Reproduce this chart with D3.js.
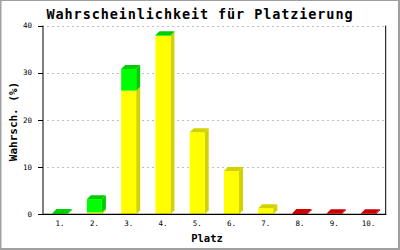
<!DOCTYPE html>
<html><head><meta charset="utf-8">
<script src="https://cdn.jsdelivr.net/npm/d3@7"></script>
<style>body{margin:0;background:#fff}svg{display:block}</style>
</head><body>
<svg id="c" width="400" height="250"></svg>
<script>
const categories = ["1.","2.","3.","4.","5.","6.","7.","8.","9.","10."];
const yellowVals = [0, 0.4, 26.2, 37.8, 17.4, 9.2, 1.3, 0, 0, 0];
const greenVals  = [0.3, 2.8, 4.6, 0.15, 0, 0, 0, 0, 0, 0];
const redVals    = [0, 0, 0, 0, 0, 0, 0, 0.3, 0.2, 0.2];
const yTicks = [0, 10, 20, 30, 40];
const title = "Wahrscheinlichkeit für Platzierung";
const xTitle = "Platz";
const yTitle = "Wahrsch. (%)";

const series = [
  {vals: yellowVals, front: "#ffff00", dark: "#d2d200"},
  {vals: greenVals,  front: "#00ff00", dark: "#00cc00"},
  {vals: redVals,    front: "#ff0000", dark: "#cc0000"}
];

const svg = d3.select("#c");
const L = 43, R = 385.7, T = 25.5, B = 214.3;
const x = d3.scaleBand().domain(categories).range([L, R]);
const y = d3.scaleLinear().domain([0, 40]).range([B, T]);
const bw = 15, dx = 4, dy = 4;
const mono = "DejaVu Sans Mono, monospace";

// frame
svg.append("rect").attr("x", 0.5).attr("y", 0.5).attr("width", 398).attr("height", 248)
  .attr("fill", "none").attr("stroke", "#a0a0a0").attr("stroke-width", 1);
svg.append("line").attr("x1", 0.5).attr("x2", 0.5).attr("y1", 0).attr("y2", 250).attr("stroke", "#a0a0a0").attr("stroke-width", 2);
svg.append("line").attr("x1", 399).attr("x2", 399).attr("y1", 0).attr("y2", 250).attr("stroke", "#a0a0a0").attr("stroke-width", 2);
svg.append("line").attr("x1", 0).attr("x2", 400).attr("y1", 249).attr("y2", 249).attr("stroke", "#a0a0a0").attr("stroke-width", 2);

// grid
svg.append("g").selectAll("line").data(yTicks.filter(d => d > 0)).join("line")
  .attr("x1", L + 4).attr("x2", R).attr("y1", d => Math.round(y(d)) + 0.5).attr("y2", d => Math.round(y(d)) + 0.5)
  .attr("stroke", "#c0c0c0").attr("stroke-dasharray", "2,3");

// bars
const g = svg.append("g");
categories.forEach((c, i) => {
  const cx = x(c) + x.bandwidth() / 2;
  const x0 = cx - bw / 2, x1 = cx + bw / 2;
  let acc = 0;
  let topIdx = -1;
  series.forEach((s, k) => { if (s.vals[i] > 0) topIdx = k; });
  series.forEach((s, k) => {
    const v = s.vals[i];
    if (v <= 0) return;
    const yb = y(acc), yt = y(acc + v);
    // side
    g.append("polygon")
      .attr("points", [[x1, yb], [x1 + dx, yb - dy], [x1 + dx, yt - dy], [x1, yt]].map(p => p.join(",")).join(" "))
      .attr("fill", s.dark);
    // front
    g.append("rect").attr("x", x0).attr("y", yt).attr("width", bw).attr("height", Math.max(0, yb - yt))
      .attr("fill", s.front);
    if (k === topIdx) {
      g.append("polygon")
        .attr("points", [[x0, yt], [x0 + dx, yt - dy], [x1 + dx, yt - dy], [x1, yt]].map(p => p.join(",")).join(" "))
        .attr("fill", s.dark);
    }
    acc += v;
  });
});

// axes
svg.append("line").attr("x1", L).attr("x2", L).attr("y1", T).attr("y2", B + 0.5).attr("stroke", "#000");
svg.append("line").attr("x1", R).attr("x2", R).attr("y1", T).attr("y2", B + 0.5).attr("stroke", "#000");
svg.append("line").attr("x1", L).attr("x2", R + 0.5).attr("y1", B).attr("y2", B).attr("stroke", "#000").attr("stroke-width", 1.2);

const yt = svg.append("g");
yt.selectAll("line").data(yTicks).join("line")
  .attr("x1", L - 5).attr("x2", L).attr("y1", d => Math.round(y(d)) + 0.5).attr("y2", d => Math.round(y(d)) + 0.5)
  .attr("stroke", "#000");
yt.selectAll("text").data(yTicks).join("text")
  .attr("x", 32).attr("y", d => y(d) + 2.6).attr("text-anchor", "end")
  .attr("font-family", mono).attr("font-size", 7.5).text(d => d);

svg.append("g").selectAll("text").data(categories).join("text")
  .attr("x", d => x(d) + x.bandwidth() / 2).attr("y", 226)
  .attr("text-anchor", "middle").attr("font-family", mono).attr("font-size", 7.5).text(d => d);

svg.append("text").attr("x", 200).attr("y", 18.5).attr("text-anchor", "middle")
  .attr("font-family", mono).attr("font-weight", "bold").attr("font-size", 13.5)
  .attr("letter-spacing", 0.9).text(title);

svg.append("text").attr("x", 207).attr("y", 242).attr("text-anchor", "middle")
  .attr("font-family", mono).attr("font-weight", "bold").attr("font-size", 10.5).text(xTitle);

svg.append("text").attr("transform", "translate(16.5,121.5) rotate(-90)").attr("text-anchor", "middle")
  .attr("font-family", mono).attr("font-weight", "bold").attr("font-size", 11).text(yTitle);
</script>
</body></html>
